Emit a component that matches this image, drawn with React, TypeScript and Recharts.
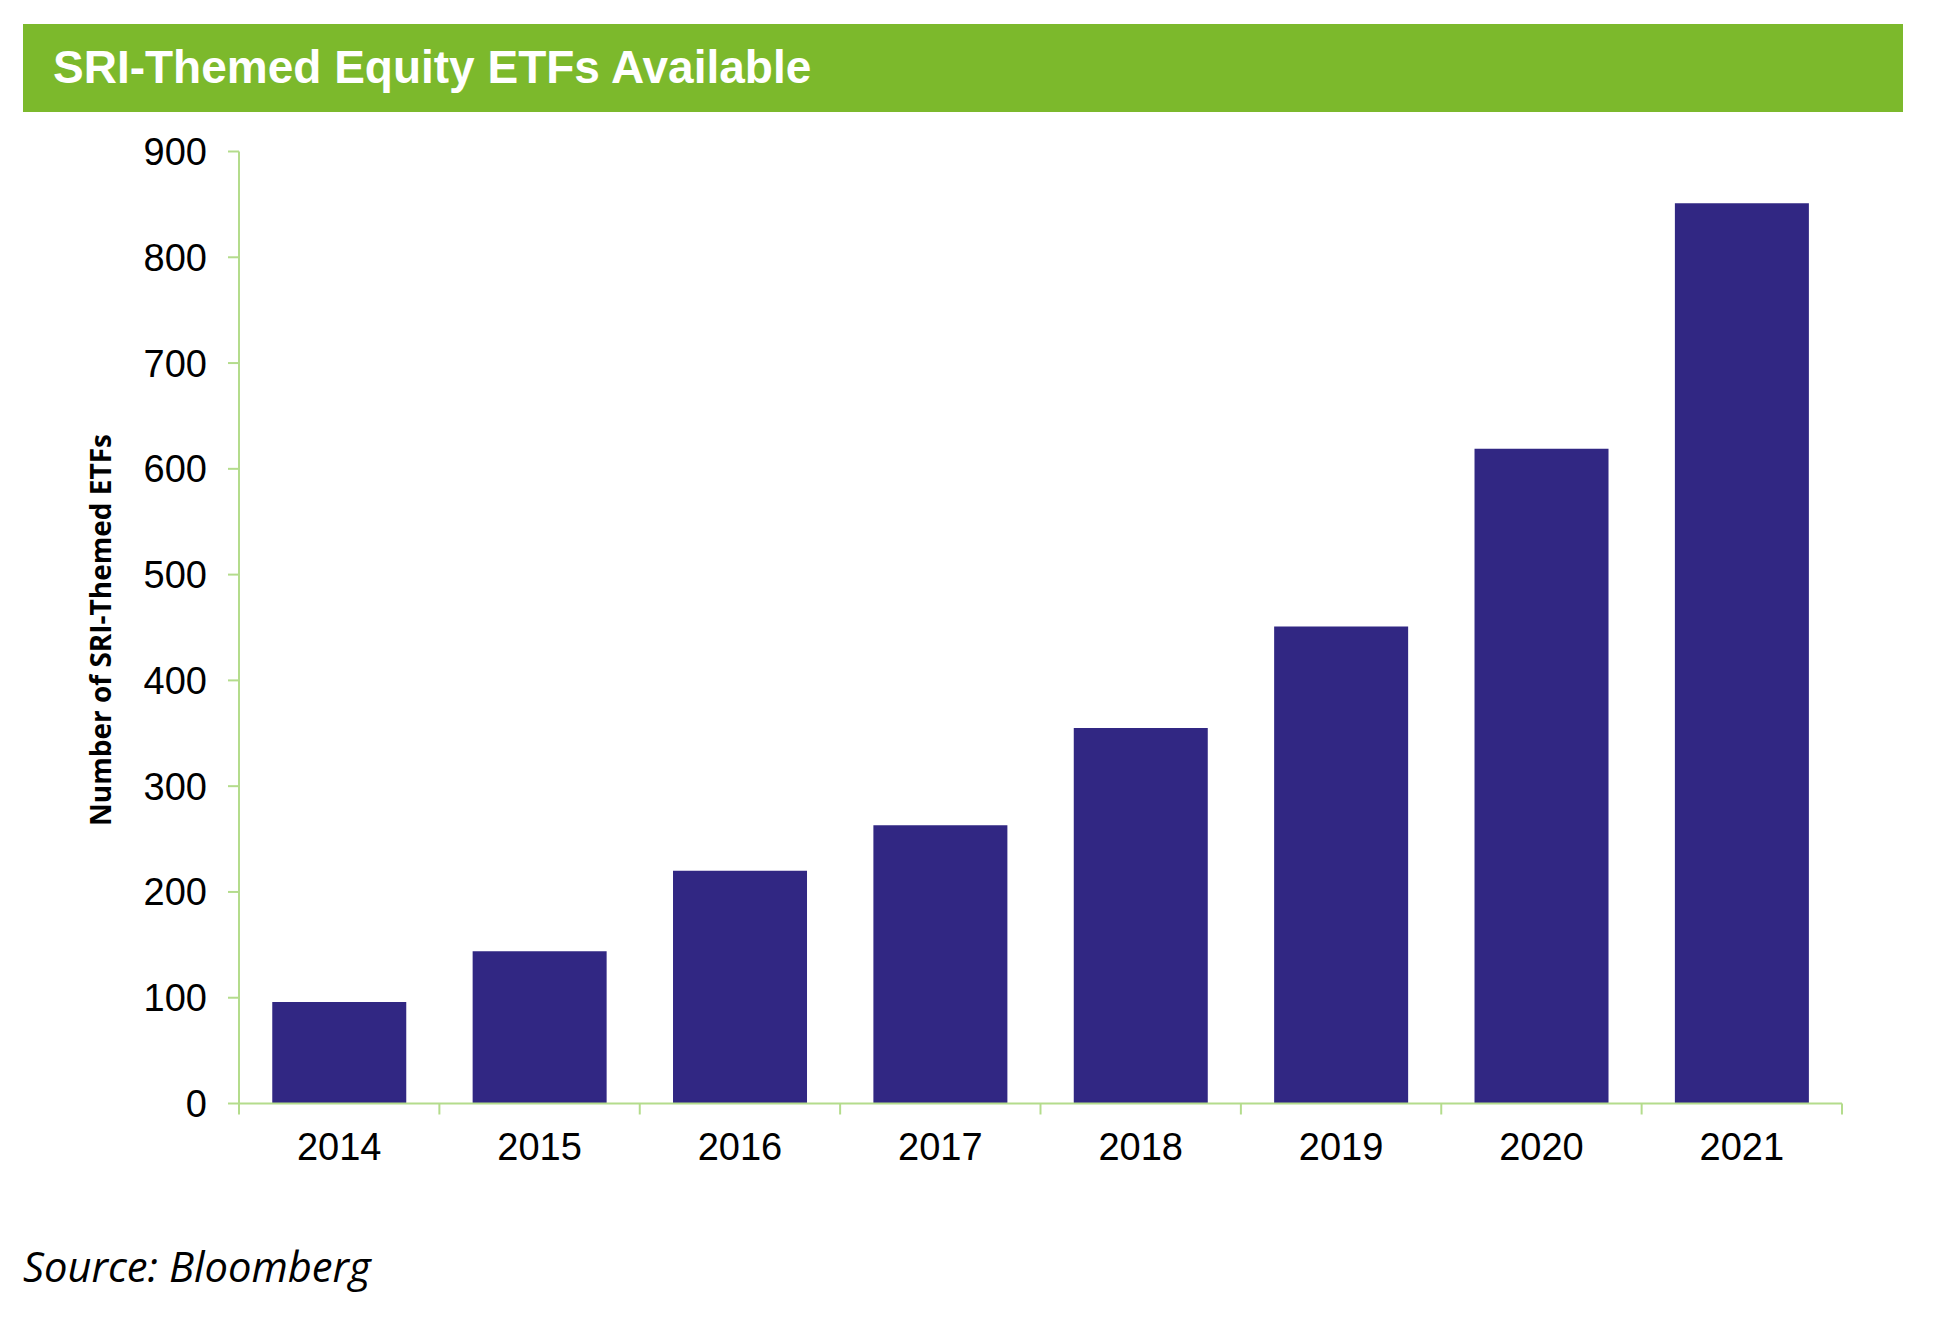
import { BarChart, Bar, XAxis, YAxis } from "recharts";

const YEARS = ["2014", "2015", "2016", "2017", "2018", "2019", "2020", "2021"];
const ETF_COUNTS = [96, 144, 220, 263, 355, 451, 619, 851];
const Y_TICKS = [0, 100, 200, 300, 400, 500, 600, 700, 800, 900];

const AXIS_GREEN = "#b4dc8c";
const BAR_PURPLE = "#312783";
const TITLE_GREEN = "#7cb92c";
const TICK_FONT = "'Liberation Sans', Arial, sans-serif";
const X_TICK_SIZE = 11;
const X_TICK_MARGIN = 19;

const chartData = YEARS.map((year, i) => ({ year, count: ETF_COUNTS[i] }));

// Excel-style category axis: tick marks sit between the categories, not under them
function YearTick(props: any) {
  const { x, y, payload, index, width, visibleTicksCount } = props;
  const half =
    payload && typeof payload.offset === "number" && payload.offset > 0
      ? payload.offset
      : width / visibleTicksCount / 2;
  const axisY = y - X_TICK_SIZE - X_TICK_MARGIN;
  const isLast = index === visibleTicksCount - 1;
  return (
    <g>
      <line
        x1={x - half}
        x2={x - half}
        y1={axisY}
        y2={axisY + X_TICK_SIZE}
        stroke={AXIS_GREEN}
        strokeWidth={2}
      />
      {isLast && (
        <line
          x1={x + half}
          x2={x + half}
          y1={axisY}
          y2={axisY + X_TICK_SIZE}
          stroke={AXIS_GREEN}
          strokeWidth={2}
        />
      )}
      <text
        x={x}
        y={y}
        dy="0.71em"
        textAnchor="middle"
        fill="#000"
        fontSize={38}
        fontFamily={TICK_FONT}
      >
        {payload.value}
      </text>
    </g>
  );
}

export default function App() {
  return (
    <div
      style={{
        position: "absolute",
        left: 0,
        top: 0,
        width: 1933,
        height: 1338,
        background: "#fff",
      }}
    >
      <div
        style={{
          position: "absolute",
          left: 23,
          top: 24,
          width: 1880,
          height: 88,
          background: TITLE_GREEN,
        }}
      />
      <div
        style={{
          position: "absolute",
          left: 53,
          top: 44,
          fontFamily: TICK_FONT,
          fontWeight: 700,
          fontSize: 46,
          lineHeight: "46px",
          color: "#fff",
          whiteSpace: "nowrap",
        }}
      >
        SRI-Themed Equity ETFs Available
      </div>

      <div style={{ position: "absolute", left: 0, top: 0 }}>
        <BarChart
          width={1933}
          height={1338}
          data={chartData}
          margin={{ top: 151.5, right: 91, bottom: 174.5, left: 139 }}
          barCategoryGap="16.6%"
        >
          <XAxis
            dataKey="year"
            height={60}
            tickLine={false}
            tickSize={X_TICK_SIZE}
            tickMargin={X_TICK_MARGIN}
            axisLine={{ stroke: AXIS_GREEN, strokeWidth: 2 }}
            tick={YearTick}
            interval={0}
          />
          <YAxis
            width={100}
            domain={[0, 900]}
            ticks={Y_TICKS}
            interval={0}
            tickSize={11}
            tickMargin={21}
            axisLine={{ stroke: AXIS_GREEN, strokeWidth: 2 }}
            tickLine={{ stroke: AXIS_GREEN, strokeWidth: 2 }}
            tick={{ fill: "#000", fontSize: 38, fontFamily: TICK_FONT }}
          />
          <Bar dataKey="count" fill={BAR_PURPLE} isAnimationActive={false} />
        </BarChart>
      </div>

      <div
        style={{
          position: "absolute",
          left: 100,
          top: 629.5,
          transform: "translate(-50%, -50%) rotate(-90deg)",
          fontFamily: "'Open Sans', sans-serif",
          fontWeight: 700,
          fontSize: 28,
          lineHeight: "28px",
          color: "#000",
          whiteSpace: "nowrap",
        }}
      >
        Number of SRI-Themed ETFs
      </div>

      <div
        style={{
          position: "absolute",
          left: 23,
          top: 1245,
          fontFamily: "'Open Sans', sans-serif",
          fontStyle: "italic",
          fontSize: 41.7,
          lineHeight: "41.7px",
          color: "#000",
          whiteSpace: "nowrap",
        }}
      >
        Source: Bloomberg
      </div>
    </div>
  );
}
